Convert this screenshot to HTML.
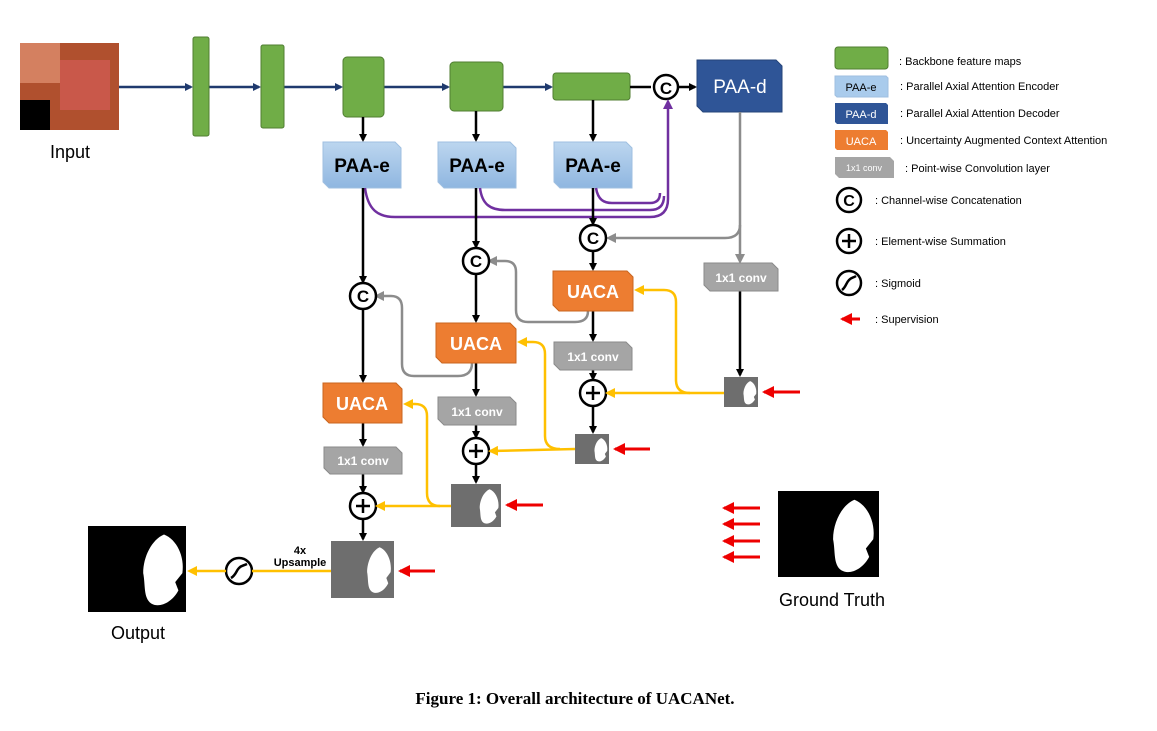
<!DOCTYPE html>
<html><head><meta charset="utf-8"><style>
html,body{margin:0;padding:0;background:#fff;}
svg{display:block;}
text{font-family:"Liberation Sans",sans-serif;}
</style></head><body>
<svg width="1157" height="731" viewBox="0 0 1157 731" xmlns="http://www.w3.org/2000/svg">
<defs>
<marker id="ab" markerWidth="8" markerHeight="8" refX="6" refY="4" orient="auto" markerUnits="userSpaceOnUse"><path d="M0,0 L8,4 L0,8 Z" fill="#000"/></marker>
<marker id="an" markerWidth="8" markerHeight="8" refX="6" refY="4" orient="auto" markerUnits="userSpaceOnUse"><path d="M0,0 L8,4 L0,8 Z" fill="#1f3a6e"/></marker>
<marker id="ag" markerWidth="10" markerHeight="10" refX="7" refY="5" orient="auto" markerUnits="userSpaceOnUse"><path d="M0,0 L10,5 L0,10 Z" fill="#8c8c8c"/></marker>
<marker id="ay" markerWidth="10" markerHeight="10" refX="7" refY="5" orient="auto" markerUnits="userSpaceOnUse"><path d="M0,0 L10,5 L0,10 Z" fill="#ffc000"/></marker>
<marker id="ap" markerWidth="10" markerHeight="10" refX="7" refY="5" orient="auto" markerUnits="userSpaceOnUse"><path d="M0,0 L10,5 L0,10 Z" fill="#7030a0"/></marker>
<marker id="ar" markerWidth="12" markerHeight="12" refX="2" refY="6" orient="auto" markerUnits="userSpaceOnUse"><path d="M0,6 L12,0 L12,12 Z" fill="#e00"/></marker>
<linearGradient id="gb" x1="0" y1="0" x2="0" y2="1"><stop offset="0" stop-color="#bcd6ef"/><stop offset="1" stop-color="#8fb6e0"/></linearGradient>
<symbol id="blob" viewBox="0 0 100 100" preserveAspectRatio="none"><path d="M70,8 C86,14 96,35 93,55 L84,66 L88,76 C80,91 64,98 54,92 C44,85 47,70 44,55 C44,35 55,14 70,8Z" fill="#fff"/></symbol>
</defs>

<!-- input image -->
<rect x="20" y="43" width="99" height="87" fill="#b0502e"/>
<rect x="20" y="43" width="40" height="40" fill="#d48060"/>
<rect x="60" y="60" width="50" height="50" fill="#c9584a"/>
<rect x="20" y="100" width="30" height="30" fill="#000"/>
<text x="70" y="158" font-size="18" text-anchor="middle">Input</text>

<!-- backbone line -->
<g stroke="#1f3a6e" stroke-width="2.5" fill="none" marker-end="url(#an)">
<line x1="119" y1="87" x2="191" y2="87"/>
<line x1="209" y1="87" x2="259" y2="87"/>
<line x1="284" y1="87" x2="341" y2="87"/>
<line x1="384" y1="87" x2="448" y2="87"/>
<line x1="503" y1="87" x2="551" y2="87"/>
</g>
<g fill="#70ad47" stroke="#507e32" stroke-width="1">
<rect x="193" y="37" width="16" height="99" rx="2"/>
<rect x="261" y="45" width="23" height="83" rx="2"/>
<rect x="343" y="57" width="41" height="60" rx="4"/>
<rect x="450" y="62" width="53" height="49" rx="4"/>
<rect x="553" y="73" width="77" height="27" rx="3"/>
</g>
<line x1="630" y1="87" x2="651" y2="87" stroke="#000" stroke-width="2.5"/>
<circle cx="666" cy="87" r="12" fill="#fff" stroke="#000" stroke-width="2.5"/>
<text x="666" y="94" font-size="17" font-weight="bold" text-anchor="middle">C</text>
<line x1="678" y1="87" x2="695" y2="87" stroke="#000" stroke-width="2.5" marker-end="url(#ab)"/>
<polygon points="697,60 776,60 782,66 782,112 703,112 697,106" fill="#2f5597" stroke="#24447a"/>
<text x="740" y="93" font-size="19" fill="#fff" text-anchor="middle">PAA-d</text>

<!-- down arrows to PAA-e -->
<g stroke="#000" stroke-width="2.5" marker-end="url(#ab)">
<line x1="363" y1="117" x2="363" y2="140"/>
<line x1="476" y1="111" x2="476" y2="140"/>
<line x1="593" y1="100" x2="593" y2="140"/>
</g>
<g fill="url(#gb)" stroke="#9fbfe0">
<polygon points="323,142 395,142 401,148 401,188 329,188 323,182"/>
<polygon points="438,142 510,142 516,148 516,188 444,188 438,182"/>
<polygon points="554,142 626,142 632,148 632,188 560,188 554,182"/>
</g>
<g font-size="19" font-weight="bold" text-anchor="middle">
<text x="362" y="172">PAA-e</text><text x="477" y="172">PAA-e</text><text x="593" y="172">PAA-e</text>
</g>

<!-- purple -->
<g stroke="#7030a0" stroke-width="2.5" fill="none">
<path d="M365,188 C368,210 378,217 395,217 L650,217 Q668,217 668,199 L668,102" marker-end="url(#ap)"/>
<path d="M480,188 C482,204 490,210 505,210 L650,210 Q664,210 664,196"/>
<path d="M596,188 C598,200 604,203 612,203 L650,203 Q660,203 660,193"/>
</g>

<!-- column lines black -->
<g stroke="#000" stroke-width="2.5" fill="none" marker-end="url(#ab)">
<line x1="363" y1="188" x2="363" y2="282"/>
<line x1="363" y1="309" x2="363" y2="381"/>
<line x1="363" y1="423" x2="363" y2="445"/>
<line x1="363" y1="474" x2="363" y2="492"/>
<line x1="363" y1="519" x2="363" y2="539"/>
<line x1="476" y1="188" x2="476" y2="247"/>
<line x1="476" y1="274" x2="476" y2="321"/>
<line x1="476" y1="363" x2="476" y2="395"/>
<line x1="476" y1="425" x2="476" y2="437"/>
<line x1="476" y1="464" x2="476" y2="482"/>
<line x1="593" y1="188" x2="593" y2="224"/>
<line x1="593" y1="251" x2="593" y2="269"/>
<line x1="593" y1="311" x2="593" y2="340"/>
<line x1="593" y1="370" x2="593" y2="379"/>
<line x1="593" y1="406" x2="593" y2="432"/>
<line x1="740" y1="291" x2="740" y2="375"/>
</g>

<!-- gray lines -->
<g stroke="#8c8c8c" stroke-width="2.5" fill="none">
<line x1="740" y1="112" x2="740" y2="261" marker-end="url(#ag)"/>
<path d="M740,225 Q740,238 725,238 L609,238" marker-end="url(#ag)"/>
<path d="M588,311 Q588,322 575,322 L528,322 Q516,322 516,310 L516,272 Q516,261 505,261 L490,261" marker-end="url(#ag)"/>
<path d="M472,363 Q472,376 458,376 L414,376 Q402,376 402,364 L402,308 Q402,296 391,296 L377,296" marker-end="url(#ag)"/>
</g>

<!-- C circles -->
<g fill="#fff" stroke="#000" stroke-width="2.5">
<circle cx="363" cy="296" r="13"/><circle cx="476" cy="261" r="13"/><circle cx="593" cy="238" r="13"/>
<circle cx="363" cy="506" r="13"/><circle cx="476" cy="451" r="13"/><circle cx="593" cy="393" r="13"/>
<circle cx="239" cy="571" r="13"/>
</g>
<g font-size="17" font-weight="bold" text-anchor="middle">
<text x="363" y="302">C</text><text x="476" y="267">C</text><text x="593" y="244">C</text>
</g>
<g stroke="#000" stroke-width="2.5">
<line x1="356" y1="506" x2="370" y2="506"/><line x1="363" y1="499" x2="363" y2="513"/>
<line x1="469" y1="451" x2="483" y2="451"/><line x1="476" y1="444" x2="476" y2="458"/>
<line x1="586" y1="393" x2="600" y2="393"/><line x1="593" y1="386" x2="593" y2="400"/>
</g>
<path d="M231,578 C236,575 236,571 239,568 C242,565 243,566 247,564" stroke="#000" stroke-width="2.5" fill="none"/>

<!-- UACA -->
<g fill="#ed7d31" stroke="#c9651f">
<polygon points="553,271 627,271 633,277 633,311 559,311 553,305"/>
<polygon points="436,323 510,323 516,329 516,363 442,363 436,357"/>
<polygon points="323,383 396,383 402,389 402,423 329,423 323,417"/>
</g>
<g font-size="18" font-weight="bold" fill="#fff" text-anchor="middle">
<text x="593" y="298">UACA</text><text x="476" y="350">UACA</text><text x="362" y="410">UACA</text>
</g>

<!-- 1x1 conv -->
<g fill="#a5a5a5" stroke="#8a8a8a">
<polygon points="704,263 772,263 778,269 778,291 710,291 704,285"/>
<polygon points="554,342 626,342 632,348 632,370 560,370 554,364"/>
<polygon points="438,397 510,397 516,403 516,425 444,425 438,419"/>
<polygon points="324,447 396,447 402,453 402,474 330,474 324,468"/>
</g>
<g font-size="12" font-weight="bold" fill="#fff" text-anchor="middle">
<text x="741" y="282">1x1 conv</text><text x="593" y="361">1x1 conv</text><text x="477" y="416">1x1 conv</text><text x="363" y="465">1x1 conv</text>
</g>

<!-- yellow -->
<g stroke="#ffc000" stroke-width="2.5" fill="none">
<path d="M724,393 L608,393" marker-end="url(#ay)"/>
<path d="M690,393 Q676,393 676,380 L676,302 Q676,290 664,290 L637,290" marker-end="url(#ay)"/>
<path d="M575,449 L491,451" marker-end="url(#ay)"/>
<path d="M560,449 Q545,449 545,436 L545,354 Q545,342 533,342 L520,342" marker-end="url(#ay)"/>
<path d="M451,506 L378,506" marker-end="url(#ay)"/>
<path d="M440,506 Q427,506 427,493 L427,416 Q427,404 415,404 L406,404" marker-end="url(#ay)"/>
<path d="M331,571 L252,571"/>
<path d="M226,571 L190,571" marker-end="url(#ay)"/>
</g>

<!-- masks -->
<rect x="724" y="377" width="34" height="30" fill="#6e6e6e"/><use href="#blob" x="732" y="379" width="26" height="27"/>
<rect x="575" y="434" width="34" height="30" fill="#6e6e6e"/><use href="#blob" x="583" y="436" width="26" height="27"/>
<rect x="451" y="484" width="50" height="43" fill="#6e6e6e"/><use href="#blob" x="463" y="486" width="38" height="40"/>
<rect x="331" y="541" width="63" height="57" fill="#6e6e6e"/><use href="#blob" x="346" y="543" width="48" height="53"/>
<rect x="88" y="526" width="98" height="86" fill="#000"/><use href="#blob" x="108" y="528" width="80" height="82"/>
<rect x="778" y="491" width="101" height="86" fill="#000"/><use href="#blob" x="797" y="493" width="82" height="84"/>

<text x="300" y="554" font-size="11" font-weight="bold" text-anchor="middle">4x</text>
<text x="300" y="566" font-size="11" font-weight="bold" text-anchor="middle">Upsample</text>
<text x="138" y="639" font-size="18" text-anchor="middle">Output</text>
<text x="832" y="606" font-size="18" text-anchor="middle">Ground Truth</text>

<!-- red arrows -->
<g stroke="#e00" stroke-width="3" marker-start="url(#ar)">
<line x1="764" y1="392" x2="800" y2="392"/>
<line x1="615" y1="449" x2="650" y2="449"/>
<line x1="507" y1="505" x2="543" y2="505"/>
<line x1="400" y1="571" x2="435" y2="571"/>
<line x1="724" y1="508" x2="760" y2="508"/>
<line x1="724" y1="524" x2="760" y2="524"/>
<line x1="724" y1="541" x2="760" y2="541"/>
<line x1="724" y1="557" x2="760" y2="557"/>
</g>

<!-- legend -->
<rect x="835" y="47" width="53" height="22" rx="3" fill="#70ad47" stroke="#507e32"/>
<polygon points="835,76 886,76 888,78 888,97 837,97 835,95" fill="#a9cbec" stroke="#9fbfe0"/>
<text x="861" y="91" font-size="11" text-anchor="middle">PAA-e</text>
<polygon points="835,103 886,103 888,105 888,124 837,124 835,122" fill="#2f5597"/>
<text x="861" y="118" font-size="11" fill="#fff" text-anchor="middle">PAA-d</text>
<polygon points="835,130 886,130 888,132 888,150 837,150 835,148" fill="#ed7d31"/>
<text x="861" y="145" font-size="11" fill="#fff" text-anchor="middle">UACA</text>
<polygon points="835,157 890,157 894,161 894,178 839,178 835,174" fill="#a5a5a5"/>
<text x="864" y="171" font-size="9" fill="#fff" text-anchor="middle">1x1 conv</text>
<g fill="#fff" stroke="#000" stroke-width="2.5">
<circle cx="849" cy="200" r="12"/><circle cx="849" cy="241" r="12"/><circle cx="849" cy="283" r="12"/>
</g>
<text x="849" y="206" font-size="16" font-weight="bold" text-anchor="middle">C</text>
<line x1="842" y1="241" x2="856" y2="241" stroke="#000" stroke-width="2.5"/><line x1="849" y1="234" x2="849" y2="248" stroke="#000" stroke-width="2.5"/>
<path d="M842,290 C846,287 846,283 849,280 C852,277 853,278 856,276" stroke="#000" stroke-width="2.5" fill="none"/>
<line x1="842" y1="319" x2="860" y2="319" stroke="#e00" stroke-width="3" marker-start="url(#ar)"/>
<g font-size="11">
<text x="899" y="65">: Backbone feature maps</text>
<text x="900" y="90">: Parallel Axial Attention Encoder</text>
<text x="900" y="117">: Parallel Axial Attention Decoder</text>
<text x="900" y="144">: Uncertainty Augmented Context Attention</text>
<text x="905" y="172">: Point-wise Convolution layer</text>
<text x="875" y="204">: Channel-wise Concatenation</text>
<text x="875" y="245">: Element-wise Summation</text>
<text x="875" y="287">: Sigmoid</text>
<text x="875" y="323">: Supervision</text>
</g>

<text x="575" y="704" font-size="17" font-weight="bold" text-anchor="middle" font-family="Liberation Serif, serif" style="font-family:'Liberation Serif',serif">Figure 1: Overall architecture of UACANet.</text>
</svg>
</body></html>
